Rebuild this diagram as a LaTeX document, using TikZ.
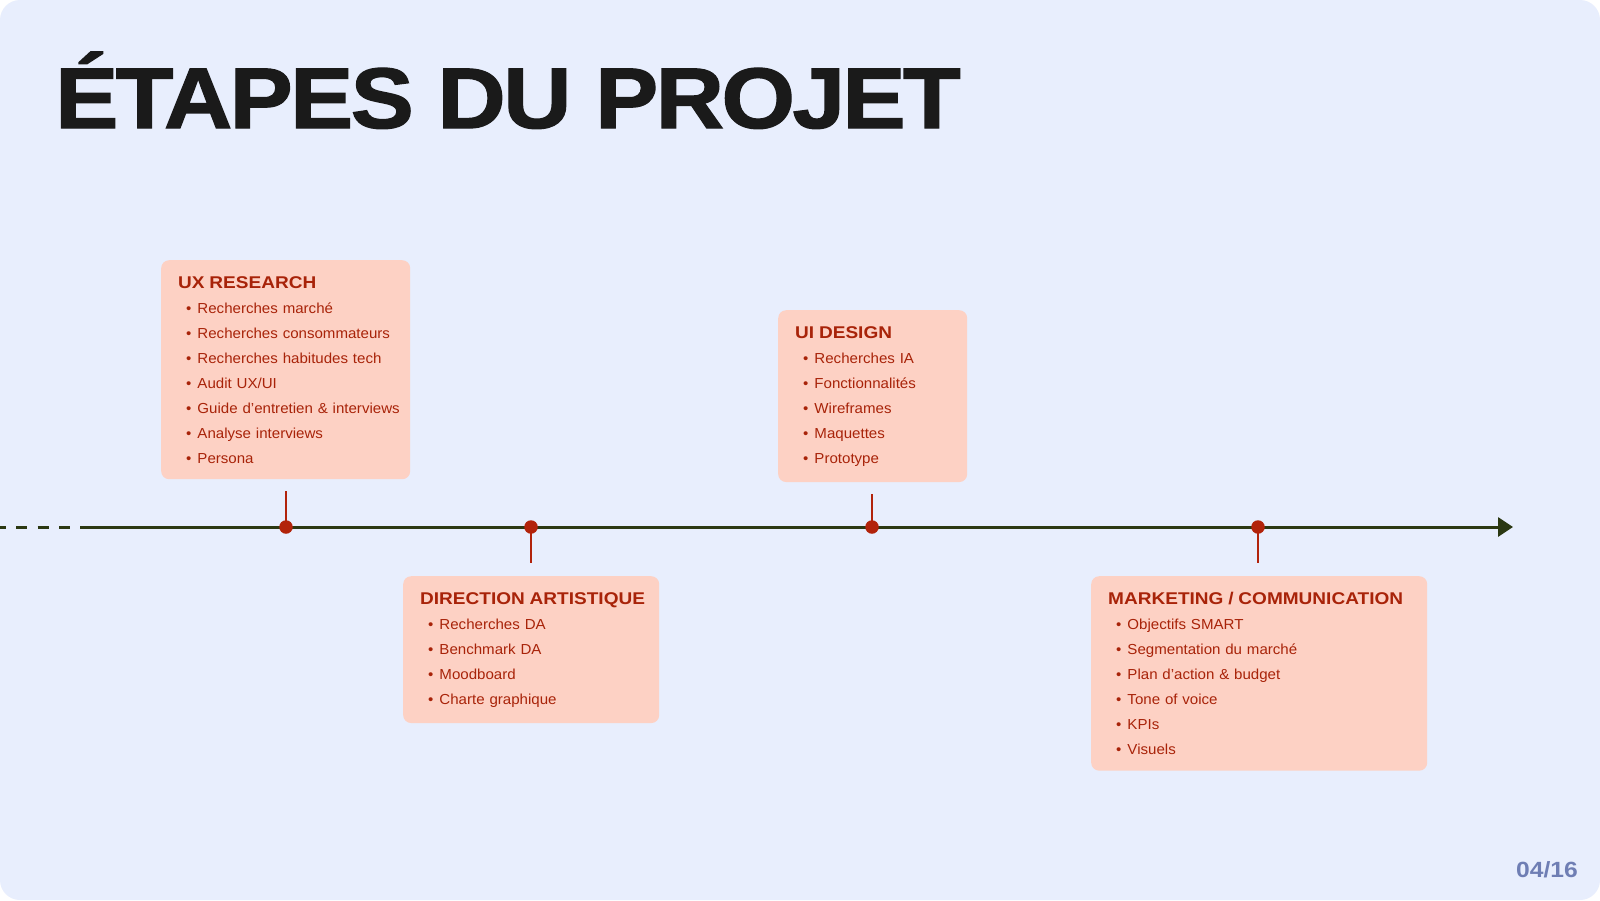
\documentclass[tikz,border=0pt]{standalone}
\usepackage{fontspec}
\setmainfont{Liberation Sans}
\newfontfamily\headfont{Liberation Sans}[FakeStretch=1.12]
\newfontfamily\bigfont{Liberation Sans}[FakeStretch=1.1, LetterSpace=-3, BoldFeatures={FakeBold=1.5}]
\newfontfamily\itemfont{Liberation Sans}[FakeStretch=1.04]
\usetikzlibrary{arrows.meta}

\definecolor{slide}{HTML}{E8EEFD}
\definecolor{cardfill}{HTML}{FDD1C4}
\definecolor{cardtext}{HTML}{A82309}
\definecolor{accent}{HTML}{B2230B}
\definecolor{axisline}{HTML}{2B3812}
\definecolor{pagenum}{HTML}{6F7EB4}
\definecolor{ink}{HTML}{1A1A1A}

\newcommand{\cardtitle}[1]{\mbox{\headfont\bfseries\fontsize{17}{20}\selectfont #1}}
\newcommand{\itm}[1]{\\\mbox{\hspace*{8pt}\textbullet\hspace{6pt}#1}}

\begin{document}
\begin{tikzpicture}[
   x=1pt, y=-1pt,
   card/.style={rectangle, rounded corners=8pt, fill=cardfill, text=cardtext,
                anchor=north west, align=left, inner xsep=17pt, inner ysep=16pt,
                font=\itemfont\fontsize{14.5}{25}\selectfont},
   dot/.style={circle, fill=accent, inner sep=0pt, minimum size=13.5pt},
   tick/.style={draw=accent, line width=2.5pt},
   axis/.style={draw=axisline, line width=3pt},
   arr/.style={-{Triangle[length=15pt, width=19pt]}}
]
% Slide
\useasboundingbox (0,0) rectangle (1600,900);
\fill[white] (0,0) rectangle (1600,900);
\fill[slide, rounded corners=20pt] (0,0) rectangle (1600,900);
\node[anchor=base west, inner sep=0pt, text=ink,
      font=\bigfont\bfseries\fontsize{86}{90}\selectfont] (title) at (55,128) {ÉTAPES DU PROJET};
\node[anchor=base east, inner sep=0pt, text=pagenum,
      font=\headfont\bfseries\fontsize{22}{24}\selectfont] (page) at (1578,877) {04/16};

% Timeline
\coordinate (tstart) at (-5.5,527);
\coordinate (tsolid) at (80,527);
\coordinate (tend) at (1513,527);
\draw[axis, dash pattern=on 11pt off 10.5pt] (tstart) -- (tsolid);
\draw[axis, arr] (tsolid) -- (tend);

% Phases
\node[card, text width=215pt] (ux) at (161,260) {\cardtitle{UX RESEARCH}
   \itm{Recherches marché}
   \itm{Recherches consommateurs}
   \itm{Recherches habitudes tech}
   \itm{Audit UX/UI}
   \itm{Guide d’entretien \& interviews}
   \itm{Analyse interviews}
   \itm{Persona}};
\node[card, text width=222pt] (da) at (403,576) {\cardtitle{DIRECTION ARTISTIQUE}
   \itm{Recherches DA}
   \itm{Benchmark DA}
   \itm{Moodboard}
   \itm{Charte graphique}};
\node[card, text width=155pt] (ui) at (778,310) {\cardtitle{UI DESIGN}
   \itm{Recherches IA}
   \itm{Fonctionnalités}
   \itm{Wireframes}
   \itm{Maquettes}
   \itm{Prototype}};
\node[card, text width=302pt] (mk) at (1091,576) {\cardtitle{MARKETING / COMMUNICATION}
   \itm{Objectifs SMART}
   \itm{Segmentation du marché}
   \itm{Plan d’action \& budget}
   \itm{Tone of voice}
   \itm{KPIs}
   \itm{Visuels}};

% Milestones
\node[dot] (d1) at (286,527) {};
\node[dot] (d2) at (531,527) {};
\node[dot] (d3) at (872,527) {};
\node[dot] (d4) at (1258,527) {};
\draw[tick, shorten >=12pt] (d1.center) -- (d1.center |- ux.south);
\draw[tick, shorten >=13pt] (d2.center) -- (d2.center |- da.north);
\draw[tick, shorten >=12pt] (d3.center) -- (d3.center |- ui.south);
\draw[tick, shorten >=13pt] (d4.center) -- (d4.center |- mk.north);
\end{tikzpicture}
\end{document}
